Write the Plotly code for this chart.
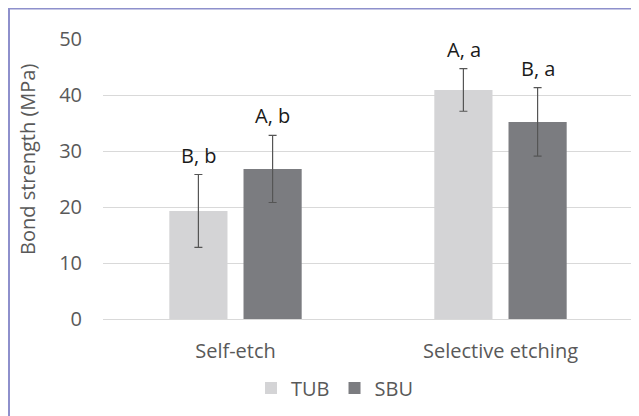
import plotly.graph_objects as go

categories = ["Self-etch", "Selective etching"]
tub_values = [19.3, 40.9]
tub_errors = [6.5, 3.8]
sbu_values = [26.8, 35.2]
sbu_errors = [6.0, 6.1]
tub_labels = ["B, b", "A, a"]
sbu_labels = ["A, b", "B, a"]
y_ticks = [0, 10, 20, 30, 40, 50]

FONT = "Open Sans, sans-serif"
FS = 20
OFF = 8  # page body margin
W, H = 639 - OFF, 416 - OFF
# margins expressed in page pixels then converted
ML, MR, MT, MB = 103 - OFF, 6, 39 - OFF, 97

fig = go.Figure()
fig.add_trace(go.Bar(
    name="TUB", x=categories, y=tub_values,
    marker=dict(color="#d4d4d6", line=dict(width=0)),
    error_y=dict(type="data", array=tub_errors, color="#555555", thickness=1.2, width=4),
))
fig.add_trace(go.Bar(
    name="SBU", x=categories, y=sbu_values,
    marker=dict(color="#7b7c80", line=dict(width=0)),
    error_y=dict(type="data", array=sbu_errors, color="#555555", thickness=1.2, width=4),
))

annotations = []
for cat, v, e, t in zip(categories, tub_values, tub_errors, tub_labels):
    annotations.append(dict(x=cat, y=v + e, xref="x", yref="y", text=t, showarrow=False,
                            xshift=-37, yshift=4, yanchor="bottom",
                            font=dict(family=FONT, size=FS, color="#1a1a1a")))
for cat, v, e, t in zip(categories, sbu_values, sbu_errors, sbu_labels):
    annotations.append(dict(x=cat, y=v + e, xref="x", yref="y", text=t, showarrow=False,
                            xshift=37, yshift=4, yanchor="bottom",
                            font=dict(family=FONT, size=FS, color="#1a1a1a")))

pw = W - ML - MR
ph = H - MT - MB
def px_x(p):
    # page pixel -> paper coordinate
    return (p - OFF - ML) / pw
def px_y(p):
    return (H - MB - (p - OFF)) / ph

shapes = [
    dict(type="line", xref="paper", yref="paper", x0=px_x(8), x1=px_x(650), y0=px_y(8.5), y1=px_y(8.5),
         line=dict(color="#8e90cc", width=2)),
    dict(type="line", xref="paper", yref="paper", x0=px_x(9), x1=px_x(9), y0=px_y(8), y1=px_y(430),
         line=dict(color="#8e90cc", width=2)),
]

annotations.append(dict(x=px_x(27), y=px_y(160), xref="paper", yref="paper", text="Bond strength (MPa)",
                        showarrow=False, textangle=-90, xanchor="center", yanchor="middle",
                        font=dict(family=FONT, size=FS, color="#595959")))

fig.update_layout(
    width=W, height=H,
    margin=dict(l=ML, r=MR, t=MT, b=MB, autoexpand=False),
    paper_bgcolor="white", plot_bgcolor="white",
    barmode="group", bargap=0.44, bargroupgap=0.216,
    font=dict(family=FONT, size=FS, color="#595959"),
    xaxis=dict(showgrid=False, showline=False, ticks="", tickfont=dict(size=FS, color="#595959"),
               ticklabelstandoff=18, automargin=False),
    yaxis=dict(range=[0, 50], tickvals=y_ticks, showgrid=True, gridcolor="#d9d9d9", gridwidth=1,
               zeroline=True, zerolinecolor="#d9d9d9", zerolinewidth=1, showline=False,
               tickfont=dict(size=FS, color="#595959"), ticklabelstandoff=20, automargin=False),
    legend=dict(orientation="h", x=px_x(251), xanchor="left", y=px_y(388), yanchor="middle",
                font=dict(size=FS, color="#595959"), itemwidth=30, traceorder="normal"),
    showlegend=True,
    annotations=annotations,
    shapes=shapes,
)

fig.write_html("out.html")
